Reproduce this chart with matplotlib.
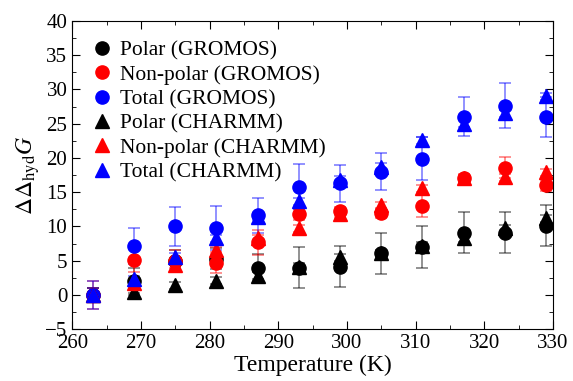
import numpy as np
import matplotlib
matplotlib.use("Agg")
import matplotlib.pyplot as plt
from matplotlib.ticker import MultipleLocator

plt.rcParams['font.family'] = ['Liberation Serif', 'DejaVu Serif']
plt.rcParams['mathtext.fontset'] = 'stix'

temperature = [263, 269, 275, 281, 287, 293, 299, 305, 311, 317, 323, 329]

# GROMOS
polar_gromos = [0.0, 2.1, 5.0, 5.3, 4.0, 4.0, 4.1, 6.1, 7.0, 9.1, 9.1, 10.1]
polar_gromos_err = [1.0, 1.8, 1.5, 1.5, 2.0, 3.0, 3.0, 3.0, 3.0, 3.0, 3.0, 3.0]
nonpolar_gromos = [0.0, 5.1, 5.0, 4.7, 7.7, 11.8, 12.2, 12.0, 13.0, 17.0, 18.6, 16.0]
nonpolar_gromos_err = [2.0, 1.7, 1.5, 1.5, 1.8, 0.8, 0.7, 0.7, 1.6, 0.7, 1.6, 0.8]
total_gromos = [0.0, 7.1, 10.0, 9.8, 11.6, 15.8, 16.3, 18.0, 19.9, 26.0, 27.6, 26.0]
total_gromos_err = [2.0, 2.6, 2.8, 3.2, 2.6, 3.3, 2.7, 2.7, 3.1, 2.85, 3.3, 2.9]

# CHARMM
polar_charmm = [0.0, 0.5, 1.4, 2.1, 2.8, 4.1, 5.5, 6.1, 7.2, 8.3, 9.7, 11.2]
nonpolar_charmm = [0.0, 1.8, 4.4, 6.5, 8.3, 9.7, 11.8, 13.1, 15.6, 17.0, 17.2, 17.9]
total_charmm = [0.0, 2.3, 5.6, 8.3, 11.4, 13.7, 16.8, 18.7, 22.6, 25.0, 26.5, 29.0]
charmm_err = [1.0, 0.5, 0.5, 0.5, 0.5, 0.5, 0.5, 0.5, 0.5, 0.5, 0.5, 0.5]

fig = plt.figure(figsize=(5.73, 3.81), dpi=100)
ax = fig.add_axes([0.126, 0.136, 0.839, 0.809])

ms = 9.5
series = [
    (polar_gromos, polar_gromos_err, 'black', 'o', 'Polar (GROMOS)'),
    (nonpolar_gromos, nonpolar_gromos_err, 'red', 'o', 'Non-polar (GROMOS)'),
    (total_gromos, total_gromos_err, 'blue', 'o', 'Total (GROMOS)'),
    (polar_charmm, charmm_err, 'black', '^', 'Polar (CHARMM)'),
    (nonpolar_charmm, charmm_err, 'red', '^', 'Non-polar (CHARMM)'),
    (total_charmm, charmm_err, 'blue', '^', 'Total (CHARMM)'),
]

for vals, err, col, mk, lab in series:
    ax.errorbar(temperature, vals, yerr=err, fmt='none', ecolor=col, alpha=0.5,
                elinewidth=1.2, capsize=4, capthick=1.2)
for vals, err, col, mk, lab in series:
    ax.plot(temperature, vals, linestyle='none', marker=mk, color=col,
            markersize=ms, label=lab)

ax.set_xlim(260, 330)
ax.set_ylim(-5, 40)
ax.xaxis.set_major_locator(MultipleLocator(10))
ax.xaxis.set_minor_locator(MultipleLocator(5))
ax.yaxis.set_major_locator(MultipleLocator(5))
ax.yaxis.set_minor_locator(MultipleLocator(2.5))
ax.tick_params(which='both', direction='in', top=True, right=True, labelsize=15)
ax.tick_params(which='major', length=6)
ax.tick_params(which='minor', length=3)

ax.set_xlabel('Temperature (K)', fontsize=17, labelpad=1)
ax.set_ylabel(r'$\Delta\Delta_{\rm hyd}G$', fontsize=17, labelpad=2)

ax.legend(loc='upper left', frameon=False, fontsize=15.5, handlelength=1.0,
          handletextpad=0.35, borderaxespad=0.0, labelspacing=0.2,
          bbox_to_anchor=(0.021, 0.965))

fig.savefig('out.png', dpi=100)
